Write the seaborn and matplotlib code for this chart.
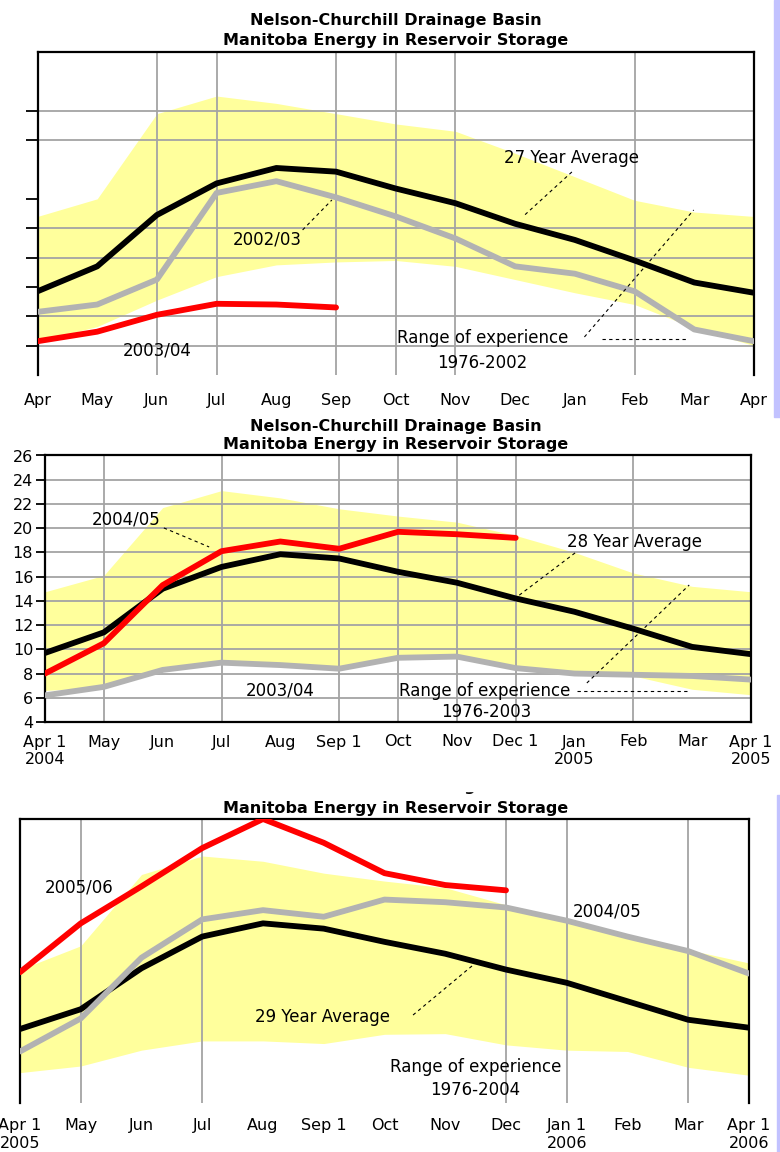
import matplotlib.pyplot as plt
import seaborn as sns
from matplotlib.patches import Rectangle

sns.set_theme(style="white")
plt.rcParams["font.family"] = ["DejaVu Sans"]
plt.rcParams["text.color"] = "black"
plt.rcParams["xtick.color"] = "black"
plt.rcParams["ytick.color"] = "black"

# month positions, Apr 1 .. Apr 1
pos = list(range(13))

p1_labels = ["Apr", "May", "Jun", "Jul", "Aug", "Sep", "Oct", "Nov", "Dec", "Jan", "Feb", "Mar", "Apr"]
p2_labels = ["Apr 1\n2004", "May", "Jun", "Jul", "Aug", "Sep 1", "Oct", "Nov", "Dec 1",
             "Jan\n2005", "Feb", "Mar", "Apr 1\n2005"]
p3_labels = ["Apr 1\n2005", "May", "Jun", "Jul", "Aug", "Sep 1", "Oct", "Nov", "Dec",
             "Jan 1\n2006", "Feb", "Mar", "Apr 1\n2006"]

# panel 1 : 2003/04 report
avg27 = [9.7, 11.4, 14.9, 17.05, 18.1, 17.85, 16.7, 15.7, 14.3, 13.2, 11.8, 10.3, 9.6]
s0203 = [8.3, 8.8, 10.5, 16.4, 17.2, 16.1, 14.8, 13.3, 11.4, 10.9, 9.7, 7.1, 6.3]
s0304_p1 = [6.3, 6.95, 8.1, 8.85, 8.8, 8.6]
hi_p1 = [14.8, 16.0, 21.8, 23.0, 22.5, 21.8, 21.1, 20.6, 19.1, 17.5, 15.9, 15.1, 14.8]
lo_p1 = [6.3, 7.3, 9.1, 10.7, 11.5, 11.7, 11.8, 11.4, 10.5, 9.6, 8.8, 7.2, 6.0]

# panel 2 : 2004/05 report
avg28 = [9.7, 11.4, 15.0, 16.8, 17.85, 17.5, 16.4, 15.5, 14.2, 13.1, 11.7, 10.2, 9.6]
s0304_p2 = [6.2, 6.9, 8.3, 8.9, 8.7, 8.4, 9.3, 9.4, 8.45, 8.0, 7.9, 7.8, 7.5]
s0405_p2 = [8.0, 10.5, 15.3, 18.1, 18.9, 18.3, 19.7, 19.5, 19.2]
hi_p2 = [14.75, 16.1, 21.7, 23.1, 22.5, 21.6, 21.0, 20.5, 19.4, 18.0, 16.3, 15.2, 14.75]
lo_p2 = [6.6, 6.9, 8.2, 8.9, 8.7, 8.6, 9.4, 9.4, 8.45, 8.0, 7.8, 6.7, 6.25]

# panel 3 : 2005/06 report
avg29 = [10.1, 11.6, 14.7, 17.1, 18.1, 17.7, 16.7, 15.8, 14.6, 13.6, 12.2, 10.8, 10.2]
s0405_p3 = [8.4, 10.9, 15.5, 18.4, 19.1, 18.6, 19.9, 19.7, 19.3, 18.3, 17.1, 16.0, 14.3]
s0506 = [14.4, 18.1, 20.9, 23.8, 26.0, 24.2, 21.9, 21.0, 20.6]
hi_p3 = [14.6, 16.4, 21.8, 23.2, 22.8, 21.9, 21.3, 20.8, 19.5, 18.4, 17.1, 16.1, 15.1]
lo_p3 = [6.8, 7.3, 8.5, 9.2, 9.2, 9.0, 9.7, 9.75, 8.9, 8.5, 8.4, 7.2, 6.6]

YELLOW = "#ffff9c"
GREY = "#b2b2b2"
GRID = "#a4a4a4"
W, H = 780, 1152

fig = plt.figure(figsize=(7.8, 11.52), dpi=100)


def px_axes(l, t, r, b):
    return fig.add_axes([l / W, 1 - b / H, (r - l) / W, (b - t) / H])


def draw(ax, hi, lo, avg, grey, red, ylim):
    ax.fill_between(pos, lo, hi, color=YELLOW, lw=0, zorder=1)
    sns.lineplot(x=pos, y=avg, color="black", lw=4.2, ax=ax, zorder=4)
    sns.lineplot(x=pos, y=grey, color=GREY, lw=4.2, ax=ax, zorder=5)
    sns.lineplot(x=pos[:len(red)], y=red, color="red", lw=4.2, ax=ax, zorder=6)
    ax.set_xlim(0, 12)
    ax.set_ylim(*ylim)
    ax.set_xlabel("")
    ax.set_ylabel("")
    for s in ax.spines.values():
        s.set_color("black")
        s.set_linewidth(1.6)


def xaxis(ax, labels, ticks, grid, pad, tlen):
    ax.set_xticks(pos, labels)
    ax.tick_params(axis="x", which="major", bottom=True, length=0, pad=pad, labelsize=11.5)
    ax.set_xticks(ticks, minor=True)
    ax.tick_params(axis="x", which="minor", bottom=True, length=tlen, width=1.6,
                   color="black", direction="out")
    for g in grid:
        ax.axvline(g, color=GRID, lw=1.3, zorder=2)


def dash(ax, x, y):
    ax.plot(x, y, color="black", lw=0.8, ls=(0, (3, 3)), zorder=7)


def title(py, txt):
    fig.text(396 / W, 1 - py / H, txt, ha="center", va="center",
             fontsize=11.5, fontweight="bold", zorder=3)


# ---- panel 1
ax1 = px_axes(37.5, 52, 754, 375)
draw(ax1, hi_p1, lo_p1, avg27, s0203, s0304_p1, (4, 26))
xaxis(ax1, p1_labels, [0, 2, 3, 5, 6, 7, 10, 12], [2, 3, 5, 6, 7, 10], 13, 6)
ax1.spines["bottom"].set_visible(False)
ax1.set_yticks([6, 8, 10, 12, 14, 16, 20, 22], [])
ax1.tick_params(axis="y", left=True, length=9, width=1.3, color="black")
for g in [6, 8, 12, 14, 20, 22]:
    ax1.axhline(g, color=GRID, lw=1.3, zorder=2)
ax1.text(8.95, 18.8, "27 Year Average", ha="center", va="center", fontsize=12)
dash(ax1, [8.95, 8.16], [17.83, 14.9])
ax1.text(3.85, 13.2, "2002/03", ha="center", va="center", fontsize=12)
dash(ax1, [4.44, 4.93], [13.88, 15.92])
ax1.text(2.0, 5.7, "2003/04", ha="center", va="center", fontsize=12)
ax1.text(7.46, 6.52, "Range of experience", ha="center", va="center", fontsize=12)
ax1.text(7.45, 4.82, "1976-2002", ha="center", va="center", fontsize=12)
dash(ax1, [9.45, 10.9], [6.45, 6.45])
dash(ax1, [9.16, 10.99], [6.59, 15.24])
title(20, "Nelson-Churchill Drainage Basin")
title(41, "Manitoba Energy in Reservoir Storage")

# ---- panel 2
ax2 = px_axes(45, 455.5, 751, 722)
draw(ax2, hi_p2, lo_p2, avg28, s0304_p2, s0405_p2, (4, 26))
xaxis(ax2, p2_labels, [0, 1, 3, 5, 6, 7, 8, 10, 12], [1, 3, 5, 6, 7, 8, 10], 9, 6)
ax2.set_yticks(range(4, 27, 2))
ax2.tick_params(axis="y", left=True, length=6.5, width=1.3, color="black",
                pad=2, labelsize=11.5)
for g in range(6, 26, 2):
    ax2.axhline(g, color=GRID, lw=1.3, zorder=2)
ax2.text(1.38, 20.68, "2004/05", ha="center", va="center", fontsize=12)
dash(ax2, [2.02, 2.79], [20.02, 18.45])
ax2.text(10.02, 18.86, "28 Year Average", ha="center", va="center", fontsize=12)
dash(ax2, [9.01, 8.02], [17.96, 14.32])
ax2.text(3.99, 6.56, "2003/04", ha="center", va="center", fontsize=12)
ax2.text(7.48, 6.56, "Range of experience", ha="center", va="center", fontsize=12)
ax2.text(7.5, 4.83, "1976-2003", ha="center", va="center", fontsize=12)
dash(ax2, [9.04, 10.91], [6.56, 6.56])
dash(ax2, [9.21, 10.95], [7.22, 15.31])
title(427, "Nelson-Churchill Drainage Basin")
title(444, "Manitoba Energy in Reservoir Storage")

# ---- panel 3
ax3 = px_axes(20, 819, 749, 1103)
draw(ax3, hi_p3, lo_p3, avg29, s0405_p3, s0506, (4.5, 26))
xaxis(ax3, p3_labels, [0, 1, 3, 8, 9, 11, 12], [1, 3, 8, 9, 11], 11, 5)
ax3.spines["bottom"].set_visible(False)
ax3.set_yticks([])
ax3.text(0.98, 20.85, "2005/06", ha="center", va="center", fontsize=12)
ax3.text(9.66, 18.96, "2004/05", ha="center", va="center", fontsize=12)
ax3.text(4.98, 11.0, "29 Year Average", ha="center", va="center", fontsize=12)
dash(ax3, [6.47, 7.46], [11.16, 14.95])
ax3.text(7.5, 7.23, "Range of experience", ha="center", va="center", fontsize=12)
ax3.text(7.49, 5.48, "1976-2004", ha="center", va="center", fontsize=12)
title(787, "Nelson-Churchill Drainage Basin")
title(808, "Manitoba Energy in Reservoir Storage")

# slide edges around the pasted screenshots
fig.patches.append(Rectangle((0, 1 - 791 / H), 1, 19 / H, transform=fig.transFigure,
                             color="white", zorder=10))
fig.patches.append(Rectangle((774 / W, 1 - 417 / H), 6 / W, 417 / H,
                             transform=fig.transFigure, color="#c2c2ff", zorder=10))
fig.patches.append(Rectangle((777 / W, 0), 3 / W, 357 / H,
                             transform=fig.transFigure, color="#c2c2ff", zorder=10))

fig.savefig("out.png", dpi=100)
